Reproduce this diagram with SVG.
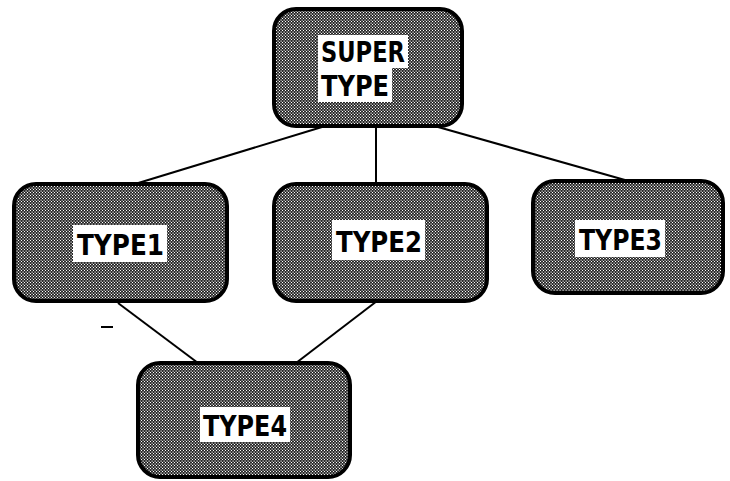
<svg xmlns="http://www.w3.org/2000/svg" width="730" height="481" viewBox="0 0 730 481">
<defs>
<pattern id="ht" width="3" height="3" patternUnits="userSpaceOnUse">
<rect width="3" height="3" fill="#2a2a2a"/>
<rect x="0" y="0" width="1" height="1" fill="#fff"/>
<rect x="1.5" y="1.5" width="1.2" height="1.2" fill="#eee"/>
</pattern>
</defs>
<style>
.box{fill:url(#ht);stroke:#000;stroke-width:4}
.lab{fill:#fff}
.t{font-family:"DejaVu Sans Condensed","DejaVu Sans",sans-serif;font-weight:bold;font-size:29px;fill:#000}
.c{stroke:#000;stroke-width:2;fill:none}
</style>
<rect width="730" height="481" fill="#fff"/>
<g id="connectors">
<line class="c" x1="322" y1="127" x2="135" y2="184"/>
<line class="c" x1="376" y1="127" x2="376" y2="184"/>
<line class="c" x1="438" y1="127" x2="632" y2="182"/>
<line class="c" x1="118" y1="303" x2="198" y2="363"/>
<line class="c" x1="377" y1="301" x2="296" y2="363"/>
<line class="c" x1="101" y1="327" x2="113" y2="327"/>
</g>
<g id="supertype">
<rect class="box" x="274" y="9" width="188" height="117" rx="22"/>
<path class="lab" d="M318,35 H408 V68 H392 V102 H318 Z"/>
<text class="t" x="321" y="62" textLength="84" lengthAdjust="spacingAndGlyphs">SUPER</text>
<text class="t" x="321" y="96" textLength="68" lengthAdjust="spacingAndGlyphs">TYPE</text>
</g>
<g id="type1">
<rect class="box" x="14" y="184" width="213" height="117" rx="22"/>
<rect class="lab" x="73" y="225" width="94" height="37"/>
<text class="t" x="77" y="255" textLength="87" lengthAdjust="spacingAndGlyphs">TYPE1</text>
</g>
<g id="type2">
<rect class="box" x="274" y="184" width="213" height="117" rx="22"/>
<rect class="lab" x="332" y="220" width="93" height="40"/>
<text class="t" x="336" y="252" textLength="86" lengthAdjust="spacingAndGlyphs">TYPE2</text>
</g>
<g id="type3">
<rect class="box" x="533" y="181" width="190" height="112" rx="22"/>
<rect class="lab" x="575" y="220" width="90" height="37"/>
<text class="t" x="579" y="250" textLength="83" lengthAdjust="spacingAndGlyphs">TYPE3</text>
</g>
<g id="type4">
<rect class="box" x="138" y="363" width="212" height="114" rx="22"/>
<rect class="lab" x="200" y="407" width="90" height="35"/>
<text class="t" x="203" y="436" textLength="84" lengthAdjust="spacingAndGlyphs">TYPE4</text>
</g>
</svg>
